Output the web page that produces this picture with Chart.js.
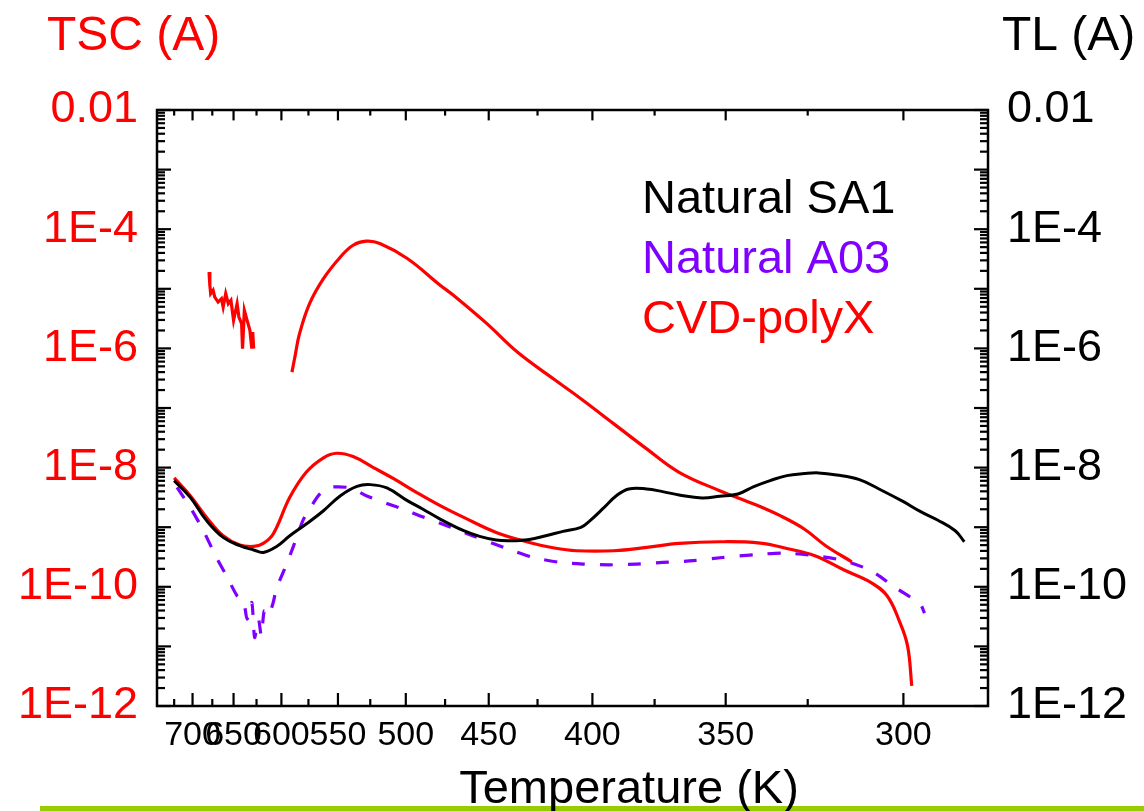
<!DOCTYPE html>
<html>
<head>
<meta charset="utf-8">
<title>TSC / TL vs Temperature</title>
<script src="https://cdn.jsdelivr.net/npm/chart.js@4.4.0/dist/chart.umd.min.js"></script>
<style>
  html, body { margin: 0; padding: 0; background: #fff; }
  #wrap { position: relative; width: 1144px; height: 811px; }
</style>
</head>
<body>
<div id="wrap"><canvas id="tlChart"></canvas></div>
<script>
const FONT = '"Liberation Sans", Arial, sans-serif';

// --- AXIS TICKS ---
const tempTicks = [700, 650, 600, 550, 500, 450, 400, 350, 300];
const tempMinorTicks = [725, 675, 625, 575, 525, 475, 425, 375, 325];
const currentTicks = [1e-12, 1e-10, 1e-8, 1e-6, 1e-4, 1e-2];

// --- DATA (temperature in K, current in A) ---
const tempSA1 = [725, 703, 682, 662, 643, 628, 618, 605, 592, 577, 562, 548, 535, 525, 513, 499, 489, 478, 464, 455,
  446, 439, 429, 421, 413, 405, 401, 395, 390, 385, 378, 372, 366, 358, 352, 346, 341, 336, 331, 326,
  322, 317, 311, 306, 300, 296, 292, 288, 286];
const tlSA1 = [6.05e-9, 3.17e-9, 1.29e-9, 6.75e-10, 4.89e-10, 4.14e-10, 3.77e-10, 4.70e-10, 7.19e-10, 1.13e-9,
  1.89e-9, 3.38e-9, 4.85e-9, 5.18e-9, 4.56e-9, 2.79e-9, 2.02e-9, 1.37e-9, 8.73e-10, 7.0e-10,
  6.09e-10, 5.93e-10, 6.24e-10, 7.19e-10, 8.5e-10, 9.93e-10, 1.29e-9, 2.15e-9, 3.38e-9, 4.38e-9,
  4.38e-9, 3.95e-9, 3.48e-9, 3.1e-9, 3.3e-9, 3.61e-9, 4.8e-9, 6.05e-9, 7.34e-9, 7.93e-9,
  8.15e-9, 7.54e-9, 6.28e-9, 4.38e-9, 2.68e-9, 1.84e-9, 1.32e-9, 8.73e-10, 5.7e-10];

const tempA03 = [721, 703, 686, 670, 657, 646, 639, 635, 630, 627, 623, 620, 617, 613, 608, 605, 597, 589, 580, 574,
  565, 556, 540, 528, 513, 499, 491, 478, 459, 442, 427, 414, 404, 393, 382, 372, 361, 351, 341, 332,
  323, 315, 308, 302, 296, 295];
const tlA03 = [4.67e-9, 2.15e-9, 8.73e-10, 3.1e-10, 1.43e-10, 7.06e-11, 5.82e-11, 2.86e-11, 5.45e-11, 1.41e-11,
  2.86e-11, 1.5e-11, 3.95e-11, 3.26e-11, 5.45e-11, 9.14e-11, 1.98e-10, 4.58e-10, 1.29e-9, 2.02e-9,
  3.61e-9, 4.67e-9, 4.56e-9, 3.38e-9, 2.51e-9, 1.89e-9, 1.56e-9, 1.17e-9, 7.19e-10, 4.58e-10,
  3.1e-10, 2.56e-10, 2.41e-10, 2.34e-10, 2.41e-10, 2.56e-10, 2.74e-10, 3.1e-10, 3.45e-10, 3.68e-10,
  3.32e-10, 2.74e-10, 1.86e-10, 9.73e-11, 5.12e-11, 3.61e-11];

const tempCVD = [725, 703, 682, 662, 643, 628, 618, 608, 592, 577, 562, 551, 538, 523, 508, 493, 478, 464, 446, 429,
  417, 407, 391, 378, 366, 352, 339, 331, 323, 315, 308, 304, 301, 299, 298];
const tlCVD = [6.71e-9, 3.38e-9, 1.46e-9, 7.19e-10, 5.02e-10, 4.75e-10, 5.35e-10, 7.69e-10, 3.17e-9, 8.34e-9,
  1.46e-8, 1.74e-8, 1.53e-8, 1.01e-8, 6.46e-9, 3.85e-9, 2.3e-9, 1.46e-9, 8.18e-10, 5.55e-10,
  4.47e-10, 4.03e-10, 4.03e-10, 4.58e-10, 5.35e-10, 5.7e-10, 5.42e-10, 4.4e-10, 3.32e-10, 1.91e-10,
  1.18e-10, 7.06e-11, 2.68e-11, 1.02e-11, 2.17e-12];

const tempCVDPeak = [590, 587, 583, 574, 562, 548, 538, 528, 518, 499, 478, 470, 451, 435, 417, 405, 391, 378, 366, 352,
  341, 333, 326, 320, 313];
const tscCVDPeak = [4.0e-7, 7.62e-7, 1.77e-6, 5.64e-6, 1.48e-5, 3.42e-5, 5.38e-5, 6.29e-5, 5.75e-5, 3.22e-5,
  1.15e-5, 7.78e-6, 2.6e-6, 8.67e-7, 3.0e-7, 1.43e-7, 5.42e-8, 2.06e-8, 8.34e-9, 4.1e-9,
  2.45e-9, 1.56e-9, 9.33e-10, 4.89e-10, 2.63e-10];

const tempCVDHot = [679, 678, 677, 674, 672, 668, 664, 662, 659, 656, 653, 650, 646, 644, 641, 640, 638, 635, 634, 632,
  630, 629, 628];
const tscCVDHot = [1.91e-5, 1.15e-5, 8.3e-6, 9.44e-6, 7.28e-6, 6.0e-6, 6.84e-6, 4.94e-6, 8.3e-6, 5.64e-6,
  6.41e-6, 2.96e-6, 5.64e-6, 3.36e-6, 2.6e-6, 9.89e-7, 4.35e-6, 2.96e-6, 2.6e-6, 2.01e-6,
  9.89e-7, 1.88e-6, 9.89e-7];

// x axis is reciprocal temperature (1000/T), labelled in K
const toPoints = (temps, vals) => temps.map((t, i) => ({ x: 1000 / t, y: vals[i] }));

const RED = '#ff0000';
const PURPLE = '#7f00ff';

// --- PLUGINS ---
const frameTicks = {
  id: 'frameTicks',
  afterDatasetsDraw(chart) {
    const { ctx, chartArea: a, scales: { x, y } } = chart;
    ctx.save();
    ctx.strokeStyle = '#000';
    ctx.lineWidth = 2.2;
    const seg = (x1, y1, x2, y2) => {
      ctx.beginPath();
      ctx.moveTo(x1, y1);
      ctx.lineTo(x2, y2);
      ctx.stroke();
    };
    const xTick = (t, len) => {
      const px = x.getPixelForValue(1000 / t);
      seg(px, a.bottom, px, a.bottom - len);
      seg(px, a.top, px, a.top + len * 0.8);
    };
    tempTicks.forEach(t => xTick(t, 13));
    tempMinorTicks.forEach(t => xTick(t, 7));

    const yTick = (v, len) => {
      const py = y.getPixelForValue(v);
      seg(a.left, py, a.left + len, py);
      seg(a.right, py, a.right - len, py);
    };
    for (let e = -12; e <= -2; e++) {
      yTick(Math.pow(10, e), 14);
      if (e < -2) {
        for (let k = 2; k <= 9; k++) yTick(k * Math.pow(10, e), 8);
      }
    }
    ctx.lineWidth = 2.5;
    ctx.strokeRect(a.left, a.top, a.right - a.left, a.bottom - a.top);
    ctx.restore();
  }
};

const annotations = {
  id: 'annotations',
  beforeDraw(chart) {
    const { ctx } = chart;
    ctx.save();
    ctx.fillStyle = '#99cc00';
    ctx.fillRect(40, 806, chart.width - 40, 5);
    ctx.restore();
  },
  afterDraw(chart) {
    const { ctx, chartArea: a } = chart;
    ctx.save();
    ctx.textBaseline = 'alphabetic';
    ctx.font = `48px ${FONT}`;
    ctx.textAlign = 'left';
    ctx.fillStyle = RED;
    ctx.fillText('TSC (A)', 47, 50);
    ctx.fillStyle = '#000';
    ctx.fillText('TL (A)', 1002, 50);

    ctx.font = `47px ${FONT}`;
    ctx.textAlign = 'center';
    ctx.fillText('Temperature (K)', 629, 803);

    // text-only legend
    ctx.textAlign = 'left';
    chart.data.datasets.filter(d => d.inLegend).forEach((d, i) => {
      ctx.fillStyle = d.borderColor;
      ctx.fillText(d.label, a.left + 485, a.top + 103 + i * 60);
    });
    ctx.restore();
  }
};

// --- CHART ---
const ctx = document.getElementById('tlChart').getContext('2d');

const lineBase = {
  pointRadius: 0,
  fill: false,
  tension: 0.4,
  yAxisID: 'y'
};

new Chart(ctx, {
  type: 'line',
  data: {
    datasets: [
      { ...lineBase, label: 'Natural SA1', inLegend: true, data: toPoints(tempSA1, tlSA1), borderColor: '#000000', borderWidth: 3 },
      { ...lineBase, label: 'Natural A03', inLegend: true, data: toPoints(tempA03, tlA03), borderColor: PURPLE, borderWidth: 3.2, borderDash: [13, 15], tension: 0.25 },
      { ...lineBase, label: 'CVD-polyX', inLegend: true, data: toPoints(tempCVD, tlCVD), borderColor: RED, borderWidth: 3.2 },
      { ...lineBase, label: 'CVD-polyX TSC', data: toPoints(tempCVDPeak, tscCVDPeak), borderColor: RED, borderWidth: 3.2 },
      { ...lineBase, label: 'CVD-polyX TSC hot', data: toPoints(tempCVDHot, tscCVDHot), borderColor: RED, borderWidth: 3.2, tension: 0 }
    ]
  },
  options: {
    responsive: true,
    maintainAspectRatio: false,
    animation: false,
    layout: { padding: { top: 110, left: 0, right: 0, bottom: 0 } },
    plugins: { legend: { display: false }, tooltip: { enabled: false } },
    scales: {
      x: {
        type: 'linear',
        position: 'bottom',
        min: 1000 / 750,
        max: 3.56,
        grid: { display: false, drawTicks: false },
        border: { display: false },
        ticks: {
          autoSkip: false, maxRotation: 0, minRotation: 0, padding: 9,
          color: '#000', font: { size: 34, family: FONT },
          callback: v => String(Math.round(1000 / v))
        },
        afterBuildTicks: s => { s.ticks = tempTicks.map(t => ({ value: 1000 / t })); },
        afterFit: s => { s.height = 105; }
      },
      y: {
        type: 'logarithmic',
        position: 'left',
        min: 1e-12,
        max: 1e-2,
        grid: { display: false, drawTicks: false },
        border: { display: false },
        ticks: {
          padding: 19, color: RED, font: { size: 45, family: FONT },
          callback: v => v === 1e-2 ? '0.01' : '1E' + Math.round(Math.log10(v))
        },
        afterBuildTicks: s => { s.ticks = currentTicks.map(v => ({ value: v })); },
        afterFit: s => { s.width = 157; }
      },
      y2: {
        type: 'logarithmic',
        position: 'right',
        display: true,
        min: 1e-12,
        max: 1e-2,
        grid: { display: false, drawTicks: false },
        border: { display: false },
        ticks: {
          padding: 19, color: '#000', font: { size: 45, family: FONT },
          callback: v => v === 1e-2 ? '0.01' : '1E' + Math.round(Math.log10(v))
        },
        afterBuildTicks: s => { s.ticks = currentTicks.map(v => ({ value: v })); },
        afterFit: s => { s.width = 156; }
      }
    }
  },
  plugins: [frameTicks, annotations]
});
</script>
</body>
</html>
